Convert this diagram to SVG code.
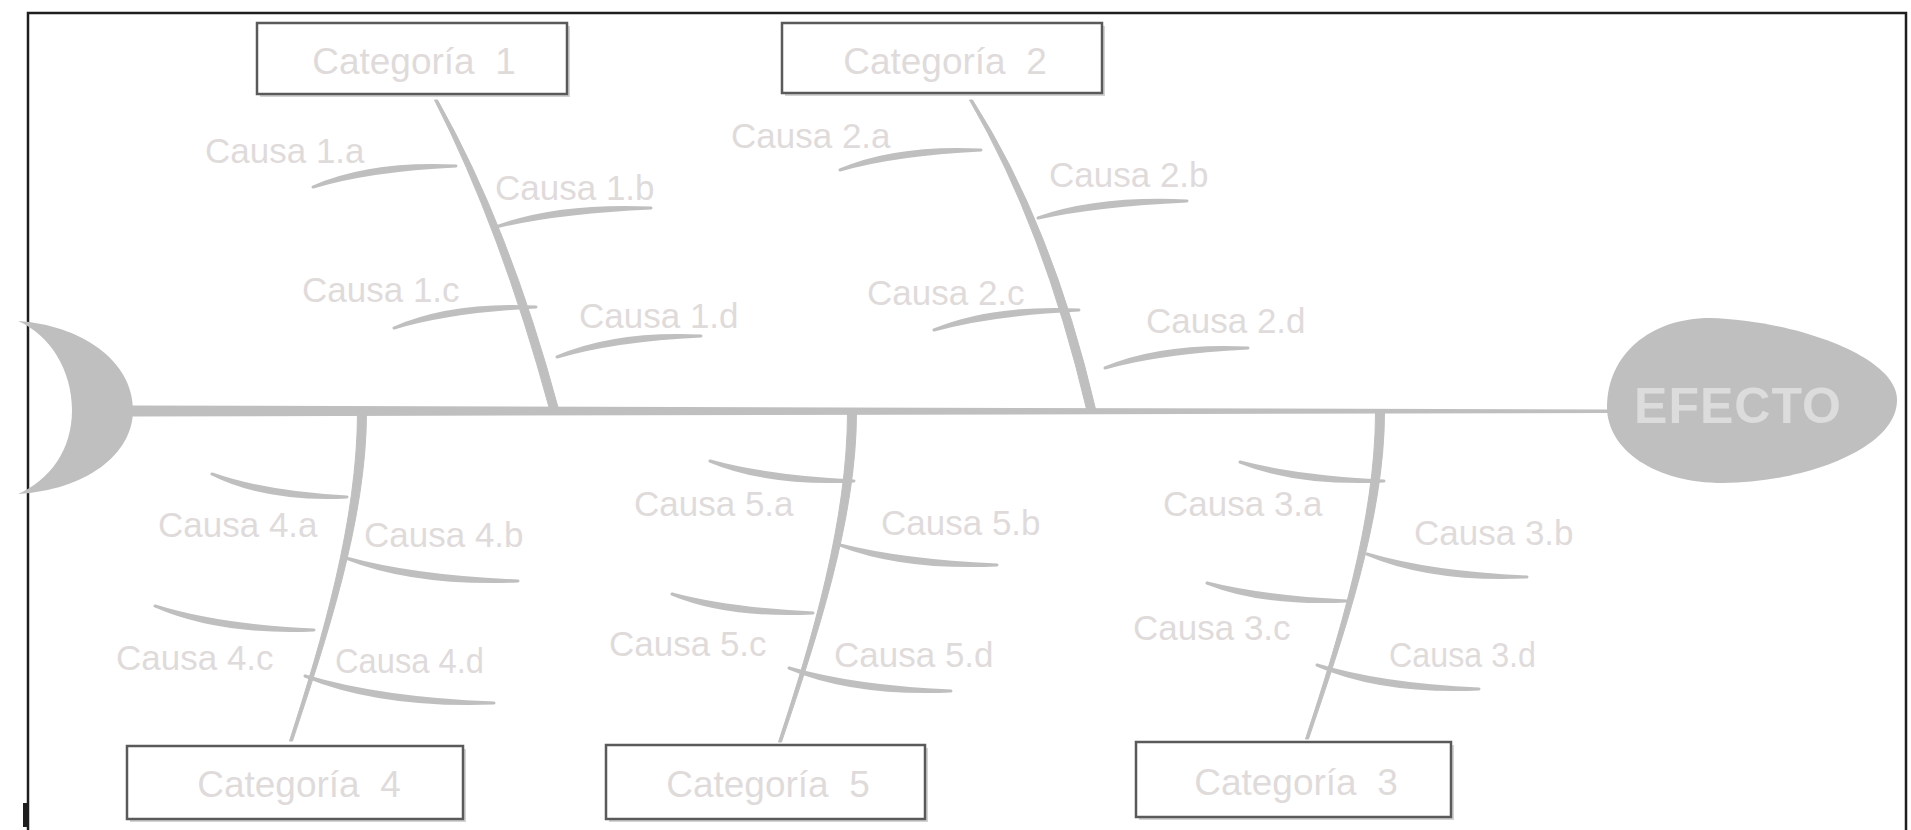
<svg xmlns="http://www.w3.org/2000/svg" width="1911" height="830" viewBox="0 0 1911 830">
  <style>
    .bone { fill: #bfbfbf; stroke: #bfbfbf; stroke-width: 1; stroke-linejoin: round; }
    .rib { fill: #bfbfbf; stroke: #bfbfbf; stroke-width: 3; stroke-linejoin: round; }
    .lbl { font-family: "Liberation Sans", Arial, sans-serif; font-size: 35px; fill: #dfdbdb; }
    .cat { font-family: "Liberation Sans", Arial, sans-serif; font-size: 37px; fill: #dfdbdb; text-anchor: middle; }
    .box { fill: #ffffff; stroke: #5a5a5a; stroke-width: 2.5; }
    .shadow { fill: #d4d4d4; }
  </style>
  <rect x="0" y="0" width="1911" height="830" fill="#ffffff"/>
  <g id="frame">
    <rect x="28" y="13" width="1878" height="840" fill="none" stroke="#1e1e1e" stroke-width="2.5"/>
    <rect x="23" y="803" width="4" height="24" fill="#1e1e1e"/>
  </g>
  <g id="head">
    <path d="M18,321 C80,325 133,360 133,410 C133,455 85,490 18,494 C50,480 72,450 72,410 C72,370 50,335 18,321 Z" fill="#bfbfbf"/>
  </g>
  <g id="spine">
    <path d="M130,405.5 L1612,409.5 L1612,413 L130,416.5 Z" fill="#bfbfbf"/>
  </g>
  <g id="effect">
    <path d="M1710,318 C1790,320 1897,355 1897,400 C1897,450 1800,483 1723,483 C1655,483 1607,450 1607,407 C1607,355 1650,318 1710,318 Z" fill="#bfbfbf"/>
    <text x="1738" y="423" font-family="'Liberation Sans', Arial, sans-serif" font-size="50" font-weight="bold" fill="#dcdcdc" text-anchor="middle" letter-spacing="1">EFECTO</text>
  </g>
  <g id="connectors">
    <path class="bone" d="M434.5,100 Q500.5,229 549.5,409 L558.5,409 Q509.5,227 437.5,100 Z"/>
    <path class="bone" d="M969.5,100 Q1043.5,227 1086.5,409 L1095.5,409 Q1052.5,225 972.5,100 Z"/>
    <path class="bone" d="M357.5,412 C357.5,520 322,640 289.5,741 L292.5,741 C326,640 366.5,520 366.5,412 Z"/>
    <path class="bone" d="M847.5,412 C847.5,520 812,640 778.5,742 L781.5,742 C816,640 856.5,520 856.5,412 Z"/>
    <path class="bone" d="M1375.5,412 C1375.5,520 1338,640 1305.5,739 L1308.5,739 C1342,640 1384.5,520 1384.5,412 Z"/>
    <path class="rib" d="M313,187 Q370,162 456,166 Q370,170 313,187 Z"/>
    <path class="rib" d="M496,227 Q558,204 651,208 Q558,212 496,227 Z"/>
    <path class="rib" d="M394,328 Q451,303 536,307 Q451,311 394,328 Z"/>
    <path class="rib" d="M557,357 Q615,332 701,336 Q615,340 557,357 Z"/>
    <path class="rib" d="M840,170 Q896,146 981,150 Q896,154 840,170 Z"/>
    <path class="rib" d="M1038,218 Q1098,197 1187,201 Q1098,205 1038,218 Z"/>
    <path class="rib" d="M934,330 Q992,306 1079,310 Q992,314 934,330 Z"/>
    <path class="rib" d="M1105,368 Q1162,344 1248,348 Q1162,352 1105,368 Z"/>
    <path class="rib" d="M212,474 Q266,493 347,497 Q266,501 212,474 Z"/>
    <path class="rib" d="M346,558 Q415,577 518,581 Q415,585 346,558 Z"/>
    <path class="rib" d="M155,606 Q219,626 314,630 Q219,634 155,606 Z"/>
    <path class="rib" d="M305,676 Q381,699 494,703 Q381,707 305,676 Z"/>
    <path class="rib" d="M710,461 Q768,477 854,481 Q768,485 710,461 Z"/>
    <path class="rib" d="M840,545 Q903,561 997,565 Q903,569 840,545 Z"/>
    <path class="rib" d="M672,594 Q728,609 813,613 Q728,617 672,594 Z"/>
    <path class="rib" d="M789,668 Q854,687 951,691 Q854,695 789,668 Z"/>
    <path class="rib" d="M1240,462 Q1298,477 1384,481 Q1298,485 1240,462 Z"/>
    <path class="rib" d="M1367,554 Q1431,573 1527,577 Q1431,581 1367,554 Z"/>
    <path class="rib" d="M1207,583 Q1263,597 1347,601 Q1263,605 1207,583 Z"/>
    <path class="rib" d="M1317,665 Q1382,685 1479,689 Q1382,693 1317,665 Z"/>
  </g>
  <g id="cat1">
    <rect class="shadow" x="260" y="26" width="310" height="71"/>
    <rect class="box" x="257" y="23" width="310" height="71"/>
    <text class="cat" x="414" y="74" xml:space="preserve">Categoría  1</text>
  </g>
  <g id="cat2">
    <rect class="shadow" x="785" y="26" width="320" height="70"/>
    <rect class="box" x="782" y="23" width="320" height="70"/>
    <text class="cat" x="945" y="74" xml:space="preserve">Categoría  2</text>
  </g>
  <g id="cat4">
    <rect class="shadow" x="130" y="749" width="336" height="73"/>
    <rect class="box" x="127" y="746" width="336" height="73"/>
    <text class="cat" x="299" y="797" xml:space="preserve">Categoría  4</text>
  </g>
  <g id="cat5">
    <rect class="shadow" x="609" y="748" width="319" height="74"/>
    <rect class="box" x="606" y="745" width="319" height="74"/>
    <text class="cat" x="768" y="797" xml:space="preserve">Categoría  5</text>
  </g>
  <g id="cat3">
    <rect class="shadow" x="1139" y="745" width="315" height="75"/>
    <rect class="box" x="1136" y="742" width="315" height="75"/>
    <text class="cat" x="1296" y="795" xml:space="preserve">Categoría  3</text>
  </g>
  <g id="causes">
    <text class="lbl" x="205" y="163">Causa 1.a</text>
    <text class="lbl" x="495" y="200">Causa 1.b</text>
    <text class="lbl" x="302" y="302">Causa 1.c</text>
    <text class="lbl" x="579" y="328">Causa 1.d</text>
    <text class="lbl" x="731" y="148">Causa 2.a</text>
    <text class="lbl" x="1049" y="187">Causa 2.b</text>
    <text class="lbl" x="867" y="305">Causa 2.c</text>
    <text class="lbl" x="1146" y="333">Causa 2.d</text>
    <text class="lbl" x="158" y="537">Causa 4.a</text>
    <text class="lbl" x="364" y="547">Causa 4.b</text>
    <text class="lbl" x="116" y="670">Causa 4.c</text>
    <text class="lbl" x="335" y="673" textLength="149" lengthAdjust="spacingAndGlyphs">Causa 4.d</text>
    <text class="lbl" x="634" y="516">Causa 5.a</text>
    <text class="lbl" x="881" y="535">Causa 5.b</text>
    <text class="lbl" x="609" y="656">Causa 5.c</text>
    <text class="lbl" x="834" y="667">Causa 5.d</text>
    <text class="lbl" x="1163" y="516">Causa 3.a</text>
    <text class="lbl" x="1414" y="545">Causa 3.b</text>
    <text class="lbl" x="1133" y="640">Causa 3.c</text>
    <text class="lbl" x="1389" y="667" textLength="147" lengthAdjust="spacingAndGlyphs">Causa 3.d</text>
  </g>
</svg>
